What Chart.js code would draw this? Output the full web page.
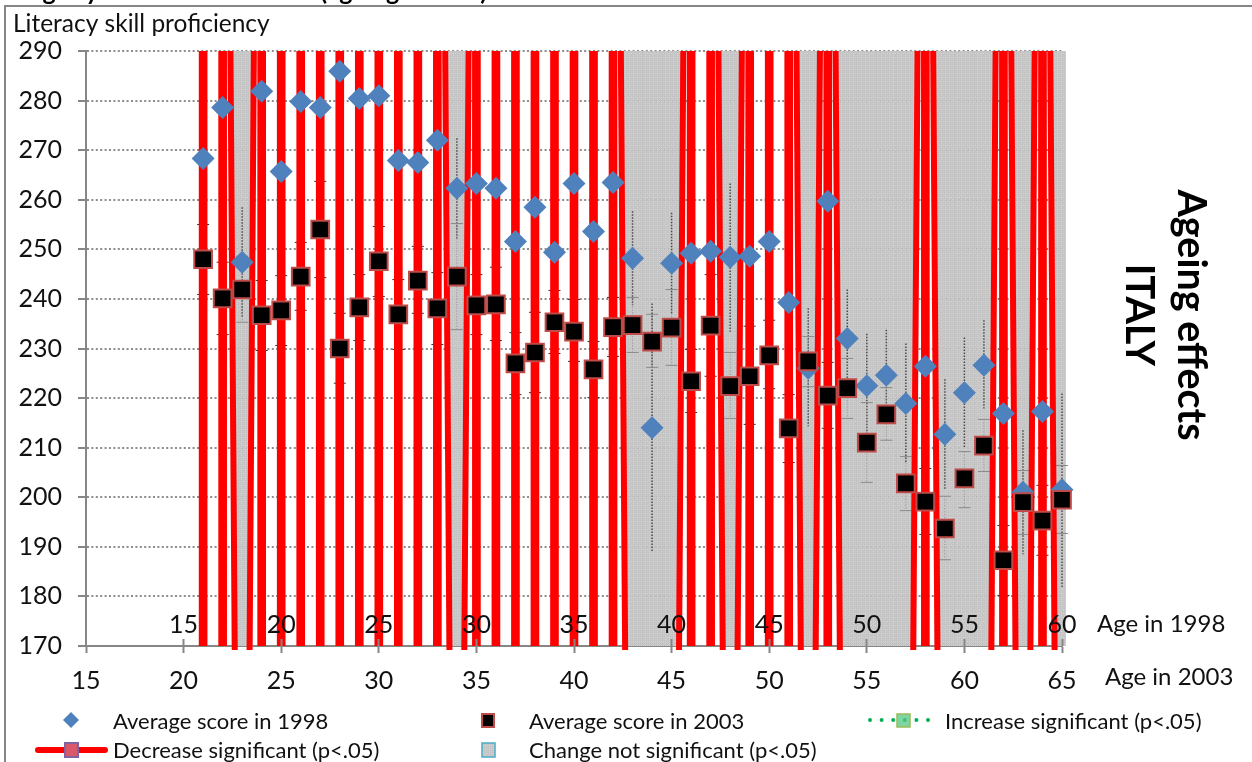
<!DOCTYPE html>
<html>
<head>
<meta charset="utf-8">
<title>Ageing effects ITALY</title>
<script src="https://cdn.jsdelivr.net/npm/chart.js@4"></script>
<style>
  html, body { margin: 0; padding: 0; background: #fff; overflow: hidden; }
  canvas { display: block; }
</style>
</head>
<body>
<canvas id="myChart" width="1252" height="762"></canvas>
<script>
// Ages in 2003, 21 to 65
const ages = [21,22,23,24,25,26,27,28,29,30,31,32,33,34,35,36,37,38,39,40,41,42,43,44,45,46,47,48,49,50,51,52,53,54,55,56,57,58,59,60,61,62,63,64,65]

const score1998 = [268.3,278.6,247.4,281.9,265.7,279.8,278.6,285.9,280.4,281,267.9,267.5,272,262.3,263.3,262.3,251.6,258.5,249.4,263.3,253.6,263.5,248.2,214,247.2,249.2,249.6,248.4,248.6,251.6,239.3,226,259.7,232,222.5,224.6,218.9,226.4,212.7,221.1,226.6,216.9,201,217.3,201.5]
const score2003 = [248,240.1,241.9,236.7,237.7,244.5,254,230,238.3,247.6,236.9,243.7,238.1,244.5,238.7,238.9,227,229.2,235.3,233.4,225.8,234.3,234.7,231.4,234.2,223.4,234.6,222.4,224.4,228.6,213.9,227.4,220.5,222,211,216.7,202.8,199.1,193.7,203.8,210.4,187.3,199,195.3,199.5]

// Confidence limits of the 2003 score, same order as ages
const high2003 = [255,247.4,248.6,243.7,244.7,251.4,263.7,237.1,244.9,254.6,243.9,250.6,245.3,255.2,244.9,246.4,233.2,237.3,241.7,239.9,231.4,240.3,240.3,236.9,241.9,229.8,244.9,229.2,234.5,235.7,220.7,232.4,227.2,228,219.1,222.1,208.2,205.8,200.2,209.2,215.7,194.3,205.4,202.4,206.4]
const low2003 = [240.9,232.8,235.3,229.6,230.6,237.7,244.3,223,231.6,240.5,229.8,237.1,230.8,233.8,232.8,231.6,220.7,221.1,229,227.4,220.1,228.4,229.2,226.2,226.6,217.1,224.4,215.9,214.7,221.9,207,222.3,213.9,215.9,203,211.5,197.3,192.5,187.4,197.9,205.2,180.2,192.5,188.3,192.7]

// Ages where the change is not significant, with the 1998 limits
const flatAges = [23,34,43,44,45,48,52,54,55,56,57,59,60,61,63,65]
const high1998 = [258.5,272.4,257.7,239.1,257.4,263.3,238.1,241.9,233,233.8,231,223.8,232.2,235.7,213.5,220.9]
const low1998 = [236.3,252.2,238.7,188.9,236.9,233.4,214.3,222.1,212.1,215.3,206.8,201.6,210,217.9,188.5,181.8]

// Everything else is a significant decrease
const dropAges = [21,22,24,25,26,27,28,29,30,31,32,33,35,36,37,38,39,40,41,42,46,47,49,50,51,53,58,62,64]
// Red borders of the grey columns, leaning outwards towards the axis
const edgeAfter = [22,33,42,47,51,53,58,62,64]
const edgeBefore = [24,35,46,49,53,58,62,64]

const ticks1998At = [20,25,30,35,40,45,50,55,60,65]
const ticks1998 = ["15","20","25","30","35","40","45","50","55","60"]

const legendText = ["Average score in 1998", "Average score in 2003", "Increase significant (p<.05)", "Decrease significant (p<.05)", "Change not significant (p<.05)"]

const FONT = "Lato"
const textColor = "#111"

function greyPattern() {
    var c = document.createElement("canvas")
    c.width = 4
    c.height = 4
    var g = c.getContext("2d")
    g.fillStyle = "rgba(192,192,192,0.92)"
    g.fillRect(0, 0, 4, 4)
    g.fillStyle = "rgba(214,214,214,0.92)"
    g.fillRect(1, 1, 1, 1)
    g.fillRect(3, 1, 1, 1)
    g.fillRect(1, 3, 1, 1)
    return g.createPattern(c, "repeat")
}

// age/high/low lists to a broken line, one piece per age
function rangePoints(xs, highs, lows) {
    var pts = []
    for (var i = 0; i < xs.length; ++i) {
        pts.push({x: xs[i], y: highs[i]}, {x: xs[i], y: lows[i]}, {x: xs[i], y: null})
    }
    return pts
}

function edgePoints() {
    var pts = []
    edgeAfter.forEach(function(a) {
        pts.push({x: a + 0.4, y: 290}, {x: a + 0.62, y: 169.2}, {x: a + 0.62, y: null})
    })
    edgeBefore.forEach(function(a) {
        pts.push({x: a - 0.4, y: 290}, {x: a - 0.62, y: 169.2}, {x: a - 0.62, y: null})
    })
    return pts
}

function xy(values) {
    return ages.map(function(a, i) { return {x: a, y: values[i]} })
}

function columns(list) {
    return list.map(function(a) { return {x: a, y: [170, 290]} })
}

// Frame, cut off heading, side texts and the legend
const decorations = {
    id: "decorations",
    beforeDraw: function(chart) {
        var ctx = chart.ctx
        ctx.save()
        ctx.fillStyle = "#fff"
        ctx.fillRect(0, 0, 1252, 762)
        ctx.strokeStyle = "#868686"
        ctx.lineWidth = 2
        ctx.beginPath()
        ctx.moveTo(5, 762)
        ctx.lineTo(5, 6)
        ctx.lineTo(1252, 6)
        ctx.stroke()
        ctx.restore()
    },
    afterDraw: function(chart) {
        var ctx = chart.ctx
        ctx.save()
        ctx.fillStyle = "#000"
        ctx.textBaseline = "alphabetic"
        ctx.font = "bold 25px " + FONT
        ctx.fillText("Using 5-year cohort intervals (ageing effects)", -7, 0)

        ctx.fillStyle = textColor
        ctx.font = "24.5px " + FONT
        ctx.fillText("Literacy skill proficiency", 13, 32)
        ctx.font = "24px " + FONT
        ctx.fillText("Age in 1998", 1097, 632)
        ctx.fillText("Age in 2003", 1105, 685)

        ctx.font = "22px " + FONT
        ctx.fillText(legendText[0], 113, 729)
        ctx.fillText(legendText[1], 529, 729)
        ctx.fillText(legendText[2], 945, 729)
        ctx.fillText(legendText[3], 113, 758)
        ctx.fillText(legendText[4], 529, 758)

        ctx.fillStyle = "#000"
        ctx.font = "bold 39.5px " + FONT
        ctx.textAlign = "center"
        ctx.save()
        ctx.translate(1178, 315)
        ctx.rotate(Math.PI / 2)
        ctx.fillText("Ageing effects", 0, 0)
        ctx.restore()
        ctx.save()
        ctx.translate(1126, 315)
        ctx.rotate(Math.PI / 2)
        ctx.fillText("ITALY", 0, 0)
        ctx.restore()

        // legend keys
        ctx.fillStyle = "#4f81bd"
        ctx.beginPath()
        ctx.moveTo(71, 712)
        ctx.lineTo(79, 720)
        ctx.lineTo(71, 728)
        ctx.lineTo(63, 720)
        ctx.fill()

        ctx.fillStyle = "#000"
        ctx.strokeStyle = "#be4b48"
        ctx.lineWidth = 2
        ctx.fillRect(482, 714, 12, 13)
        ctx.strokeRect(482, 714, 12, 13)

        ctx.strokeStyle = "#00b050"
        ctx.lineWidth = 4
        ctx.lineCap = "round"
        ctx.setLineDash([0, 11.6])
        ctx.beginPath()
        ctx.moveTo(870, 720)
        ctx.lineTo(932, 720)
        ctx.stroke()
        ctx.setLineDash([])
        ctx.fillStyle = "rgba(80,200,130,0.75)"
        ctx.fillRect(897, 714, 13, 13)
        ctx.strokeStyle = "#9bbb59"
        ctx.lineWidth = 1.5
        ctx.lineCap = "butt"
        ctx.strokeRect(897, 714, 13, 13)

        ctx.strokeStyle = "#ff0000"
        ctx.lineWidth = 6
        ctx.lineCap = "round"
        ctx.beginPath()
        ctx.moveTo(38, 750)
        ctx.lineTo(105, 750)
        ctx.stroke()
        ctx.lineCap = "butt"
        ctx.fillStyle = "#d9596a"
        ctx.fillRect(65, 743, 13, 14)
        ctx.strokeStyle = "#8064a2"
        ctx.lineWidth = 2
        ctx.strokeRect(65, 743, 13, 14)

        ctx.fillStyle = greyPattern()
        ctx.fillRect(482, 743, 13, 14)
        ctx.strokeStyle = "#4bacc6"
        ctx.lineWidth = 1.5
        ctx.strokeRect(482, 743, 13, 14)
        ctx.restore()
    }
}

const ctx = document.getElementById("myChart").getContext("2d")
const chart = new Chart(ctx, {
    type: "scatter",
    plugins: [decorations],
    data: {
        datasets: [
            {
                type: "bar", label: "Change not significant (p<.05)", order: 7,
                data: columns(flatAges),
                backgroundColor: greyPattern(),
                barThickness: 20, grouped: false,
                clip: {left: 0, top: 0, right: 4, bottom: 0}
            },
            {
                label: "1998 limits", order: 6, showLine: true,
                data: rangePoints(flatAges, high1998, low1998),
                borderColor: "#4a4a4a", borderWidth: 1.5, borderDash: [1.5, 1.5], pointRadius: 0,
                clip: {left: 0, top: 0, right: 2, bottom: 0}
            },
            {
                label: "2003 limits", order: 5, showLine: true,
                data: rangePoints(ages, high2003, low2003),
                borderColor: "#8a8a8a", borderWidth: 1, borderDash: [1, 2],
                pointStyle: "line", pointRadius: 6, pointBorderWidth: 1,
                // caps read dark on white, faint on the grey columns
                pointBorderColor: function(c) {
                    return c.raw && flatAges.includes(c.raw.x) ? "#8a8a8a" : "#333"
                },
                clip: {left: 0, top: 0, right: 6, bottom: 0}
            },
            {
                type: "bar", label: "Decrease significant (p<.05)", order: 4,
                data: columns(dropAges),
                backgroundColor: "#ff0000",
                barThickness: 8, grouped: false
            },
            {
                label: "Decrease edges", order: 3, showLine: true,
                data: edgePoints(),
                borderColor: "#ff0000", borderWidth: 6, pointRadius: 0,
                clip: {left: 0, top: 0, right: 0, bottom: 4}
            },
            {
                label: "Average score in 1998", order: 2,
                data: xy(score1998),
                pointStyle: "rectRot", pointRadius: 11.5,
                pointBackgroundColor: "#4f81bd", pointBorderColor: "#4f81bd", pointBorderWidth: 0,
                clip: false
            },
            {
                label: "Average score in 2003", order: 1,
                data: xy(score2003),
                pointStyle: "rect", pointRadius: 12.5,
                pointBackgroundColor: "#000", pointBorderColor: "#be4b48", pointBorderWidth: 2,
                clip: false
            }
        ]
    },
    options: {
        responsive: false,
        animation: false,
        layout: {padding: {left: 0, right: 190, top: 51, bottom: 0}},
        plugins: {legend: {display: false}, tooltip: {enabled: false}, title: {display: false}},
        scales: {
            x: {
                type: "linear", position: "bottom", min: 15, max: 65, offset: false,
                afterFit: function(s) { s.height = 116 },
                grid: {drawOnChartArea: false, offset: false, tickLength: 7, tickColor: "#868686", tickWidth: 2},
                border: {color: "#868686", width: 2},
                ticks: {stepSize: 5, autoSkip: false, maxRotation: 0, padding: 13, color: textColor, font: {family: FONT, size: 25}}
            },
            x2: {
                type: "linear", position: {y: 171.4}, min: 15, max: 65, offset: false,
                afterBuildTicks: function(s) { s.ticks = ticks1998At.map(function(v) { return {value: v} }) },
                grid: {drawOnChartArea: false, offset: false, tickLength: 7, tickColor: "#868686", tickWidth: 2, z: 1},
                border: {display: false},
                ticks: {
                    autoSkip: false, maxRotation: 0, padding: -36, z: 1, color: textColor, font: {family: FONT, size: 25},
                    callback: function(v, i) { return ticks1998[i] }
                }
            },
            y: {
                type: "linear", position: "left", min: 170, max: 290, beginAtZero: false,
                afterFit: function(s) { s.width = 86 },
                grid: {color: "#8c8c8c", lineWidth: 2, tickLength: 8, tickColor: "#868686", tickWidth: 2, tickBorderDash: []},
                border: {color: "#868686", width: 2, dash: [2, 2.4]},
                ticks: {stepSize: 10, padding: 16, color: textColor, font: {family: FONT, size: 25}}
            }
        }
    }
})
</script>
</body>
</html>
